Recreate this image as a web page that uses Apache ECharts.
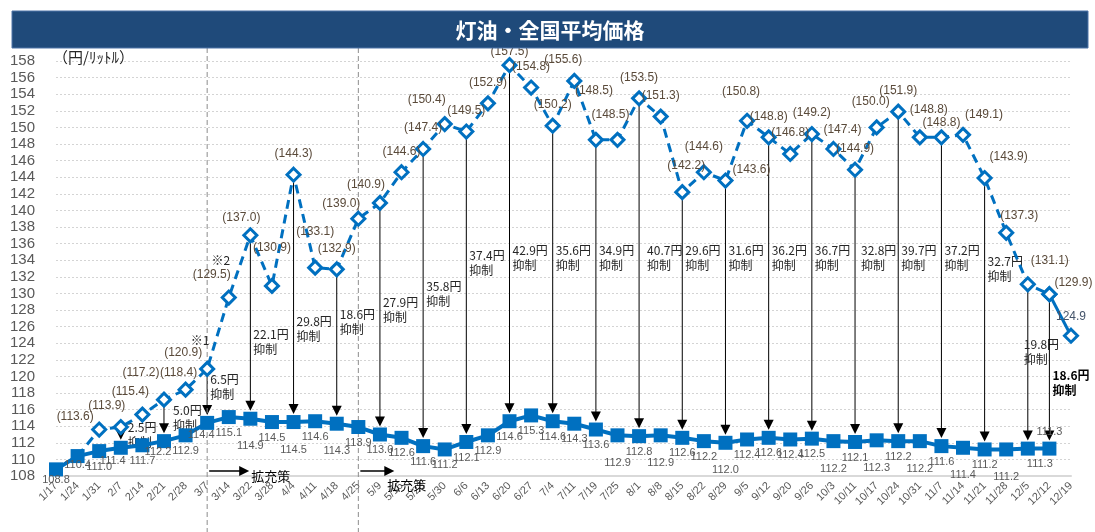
<!DOCTYPE html>
<html><head><meta charset="utf-8">
<script src="https://cdn.jsdelivr.net/npm/echarts@6/dist/echarts.min.js"></script>
<style>html,body{margin:0;padding:0;background:#fff}#c{width:1095px;height:532px}</style>
</head><body><div id="c"></div>
<script>
// ---- data ----
const categories = ['1/17','1/24','1/31','2/7','2/14','2/21','2/28','3/7','3/14','3/22','3/28','4/4','4/11','4/18','4/25','5/9','5/16','5/23','5/30','6/6','6/13','6/20','6/27','7/4','7/11','7/19','7/25','8/1','8/8','8/15','8/22','8/29','9/5','9/12','9/20','9/26','10/3','10/11','10/17','10/24','10/31','11/7','11/14','11/21','11/28','12/5','12/12','12/19'];
// actual national average price (with subsidy)
const actualPrice = [108.8,110.4,111.0,111.4,111.7,112.2,112.9,114.4,115.1,114.9,114.5,114.5,114.6,114.3,113.9,113.0,112.6,111.6,111.2,112.1,112.9,114.6,115.3,114.6,114.3,113.6,112.9,112.8,112.9,112.6,112.2,112.0,112.4,112.6,112.4,112.5,112.2,112.1,112.3,112.2,112.2,111.6,111.4,111.2,111.2,111.3,111.3,null];
// price without subsidy
const noSubsidyPrice = [null,110.4,113.6,113.9,115.4,117.2,118.4,120.9,129.5,137.0,130.9,144.3,133.1,132.9,139.0,140.9,144.6,147.4,150.4,149.5,152.9,157.5,154.8,150.2,155.6,148.5,148.5,153.5,151.3,142.2,144.6,143.6,150.8,148.8,146.8,149.2,147.4,144.9,150.0,151.9,148.8,148.8,149.1,143.9,137.3,131.1,129.9,124.9];
// weeks with suppression arrows
const arrowDates = ['2/7','2/21','3/7','3/22','4/4','4/18','5/9','5/23','6/6','6/20','7/4','7/19','8/1','8/15','8/29','9/12','9/26','10/11','10/24','11/7','11/21','12/5','12/12'];
const expansionDates = ['3/7','4/25'];
const yTicks = {min:108, max:158, step:2};

// ---- styling / layout helpers (not data) ----
const FF = "'Liberation Sans','Noto Sans CJK JP',sans-serif";
const JF = "'Noto Sans CJK JP',sans-serif";
const BLUE = '#0070C0';

const dashLabelShift = {
  '1/31':[-24,8],'2/7':[-14,0],'2/14':[-12,-2],'2/21':[-23,-6],'2/28':[-7,4],'3/7':[-24,5],
  '3/14':[-17,-2],'3/22':[-9,3],'3/28':[0,-17],'4/11':[0,-15],'4/25':[-17,6],'5/9':[-14,3],
  '5/30':[-18,-3],'6/20':[0,8],'7/11':[-11,0],'7/19':[-2,-28],'7/25':[-7,-4],'8/15':[4,-5],
  '8/22':[0,-5],'8/29':[26,10],'9/5':[-6,-8],'10/3':[9,2],'10/17':[-6,-5],'10/31':[9,-7],
  '11/7':[0,6],'11/14':[21,1],'11/21':[24,0],'11/28':[13,4],'12/5':[22,-3],'12/12':[24,9]
};
const solidLow = ['3/22','4/4','4/18','7/25','8/8','8/29','10/3','10/17','10/31','11/14','11/28'];
const solidShift = {'1/17':[0,-5],'1/24':[0,-7],'2/7':[-8,-2],'2/21':[-6,-5],'3/7':[-6,-3],'12/5':[12,0]};
// vertical anchor (in axis units) of the "xx円 抑制" notes; default sits in one row
const arrowNoteLevel = {'2/7':113.0,'2/21':115.0,'3/7':118.7,'3/22':124.1,'4/4':125.7,'4/18':126.6,
  '5/9':128.0,'5/23':129.9,'6/6':133.7,'11/21':133.0,'12/5':123.0,'12/12':119.2};
const arrowNoteDx = {'2/7':4,'2/21':6,'8/1':5,'12/5':-7,'10/11':3};

let lastSolid = -1;
actualPrice.forEach((v,i)=>{ if(v!==null) lastSolid = i; });

const solidData = actualPrice.map((v,i)=>{
  const c = categories[i];
  if (v === null) return null;
  const item = {value:v, label:{}};
  if (i === lastSolid) { item.label = {position:'top', distance:4}; }
  else if (solidLow.includes(c)) item.label.offset = [0,12];
  else if (solidShift[c]) item.label.offset = solidShift[c];
  return item;
});

const dashData = noSubsidyPrice.map((v,i)=>{
  if (v === null || i > lastSolid) return null;
  const same = actualPrice[i] === v;
  return {value:v, symbolSize: same ? 0 : 13,
    label:{show:!same, offset: dashLabelShift[categories[i]] || [0,0]}};
});
const tailData = noSubsidyPrice.map((v,i)=>{
  if (i < lastSolid) return null;
  return {value:v, label:{show: i > lastSolid, offset:[0,2]}};
});

const arrowData = arrowDates.map(d=>{
  const i = categories.indexOf(d);
  return [i, noSubsidyPrice[i], actualPrice[i]];
});

const chart = echarts.init(document.getElementById('c'));
const option = {
  animation:false,
  grid:{left:56,right:24,top:61,bottom:56},
  xAxis:{type:'category', data:categories, boundaryGap:false,
    axisLine:{lineStyle:{color:'#d9d9d9', width:2}}, axisTick:{show:false},
    axisLabel:{rotate:45, interval:0, fontSize:11, color:'#595959', margin:8, fontFamily:FF}},
  yAxis:{type:'value', min:yTicks.min, max:yTicks.max, interval:yTicks.step,
    axisLine:{show:false}, axisTick:{show:false},
    axisLabel:{fontSize:15, color:'#595959', margin:21, fontFamily:FF},
    splitLine:{lineStyle:{color:'#d4d4d4', type:[2,2]}}},
  series:[
    {type:'custom', z:1, data:arrowData, encode:{x:0, y:[1,2]}, clip:false,
     renderItem:function(params, api){
       const i = api.value(0), a = api.value(1), b = api.value(2);
       const cat = categories[i];
       const p1 = api.coord([i, a]);
       const p2 = api.coord([i, b]);
       const tip = p2[1] - 8;
       const lv = arrowNoteLevel[cat] !== undefined ? arrowNoteLevel[cat] : 134.3;
       const pl = api.coord([i, lv]);
       const isLast = params.dataIndex === arrowData.length - 1;
       return {type:'group', children:[
         {type:'line', shape:{x1:p1[0], y1:p1[1], x2:p1[0], y2:tip-9}, style:{stroke:'#000', lineWidth:1}},
         {type:'polygon', shape:{points:[[p1[0]-5, tip-10],[p1[0]+5, tip-10],[p1[0], tip]]}, style:{fill:'#000'}},
         {type:'text', x:p1[0]+3+(arrowNoteDx[cat]||0), y:pl[1], style:{text:(a-b).toFixed(1)+'円\n抑制',
           font:(isLast?'bold ':'')+'12px '+JF, fill: isLast ? '#000' : '#262626',
           align:'left', verticalAlign:'middle', textAlign:'left', textVerticalAlign:'middle', lineHeight:15}}
       ]};
     }},
    {name:'実際の価格', type:'line', z:3, data:solidData, symbol:'rect', symbolSize:14,
     itemStyle:{color:BLUE}, lineStyle:{color:BLUE, width:4},
     label:{show:true, position:'bottom', distance:3, fontSize:11, color:'#595959', fontFamily:FF,
       formatter:p=>Number(p.value).toFixed(1)}},
    {name:'補助なし価格', type:'line', z:4, data:dashData, symbol:'diamond',
     itemStyle:{color:'#fff', borderColor:BLUE, borderWidth:3},
     lineStyle:{color:BLUE, width:3, type:[9,6]},
     label:{position:'top', distance:7, fontSize:12, color:'#5a4a3a', fontFamily:FF,
       formatter:p=>'('+Number(p.value).toFixed(1)+')'}},
    {name:'最新', type:'line', z:4, data:tailData, symbol:'diamond', symbolSize:13,
     itemStyle:{color:'#fff', borderColor:BLUE, borderWidth:3},
     lineStyle:{color:BLUE, width:3},
     label:{position:'top', distance:7, fontSize:12, color:'#44546a', fontFamily:FF,
       formatter:p=>Number(p.value).toFixed(1)}}
  ]
};
chart.setOption(option);

const px = (cat, val)=> chart.convertToPixel({xAxisIndex:0, yAxisIndex:0}, [categories.indexOf(cat), val]);
const bottomY = px('1/17', yTicks.min)[1];
const g = [
  {type:'rect', shape:{x:12, y:11, width:1076, height:37}, style:{fill:'#1F4A7A', stroke:'#4F74A8', lineWidth:1}, z:10},
  {type:'text', x:550, y:30, style:{text:'灯油・全国平均価格', font:'bold 21px '+JF, fill:'#fff', align:'center', verticalAlign:'middle', textAlign:'center', textVerticalAlign:'middle'}, z:11},
  {type:'text', x:53, y:57, style:{text:'（円/ﾘｯﾄﾙ）', font:'15px '+JF, fill:'#262626', align:'left', verticalAlign:'middle', textAlign:'left', textVerticalAlign:'middle'}, z:11}
];
expansionDates.forEach((d, k)=>{
  const x = px(d, yTicks.min)[0];
  g.push({type:'line', shape:{x1:x, y1:48, x2:x, y2:532}, style:{stroke:'#8c8c8c', lineWidth:1, lineDash:[5,3]}, z:2});
  const ay = bottomY - 5;
  const len = k === 0 ? 42 : 36;
  g.push({type:'line', shape:{x1:x+2, y1:ay, x2:x+len-8, y2:ay}, style:{stroke:'#000', lineWidth:1.5}, z:5});
  g.push({type:'polygon', shape:{points:[[x+len-10, ay-5],[x+len, ay],[x+len-10, ay+5]]}, style:{fill:'#000'}, z:5});
  g.push({type:'text', x: k===0 ? x+len+2 : x+29, y: k===0 ? ay+5 : ay+14,
    style:{text:'拡充策', font:'13px '+JF, fill:'#000', align:'left', verticalAlign:'middle', textAlign:'left', textVerticalAlign:'middle'}, z:5});
});
const n1 = px('3/7', noSubsidyPrice[categories.indexOf('3/7')]);
const n2 = px('3/14', noSubsidyPrice[categories.indexOf('3/14')]);
g.push({type:'text', x:n1[0]-7, y:n1[1]-28, style:{text:'※1', font:'12px '+JF, fill:'#262626', align:'center', verticalAlign:'middle', textAlign:'center', textVerticalAlign:'middle'}, z:5});
g.push({type:'text', x:n2[0]-8, y:n2[1]-37, style:{text:'※2', font:'12px '+JF, fill:'#262626', align:'center', verticalAlign:'middle', textAlign:'center', textVerticalAlign:'middle'}, z:5});
chart.setOption({graphic:g});
</script></body></html>
